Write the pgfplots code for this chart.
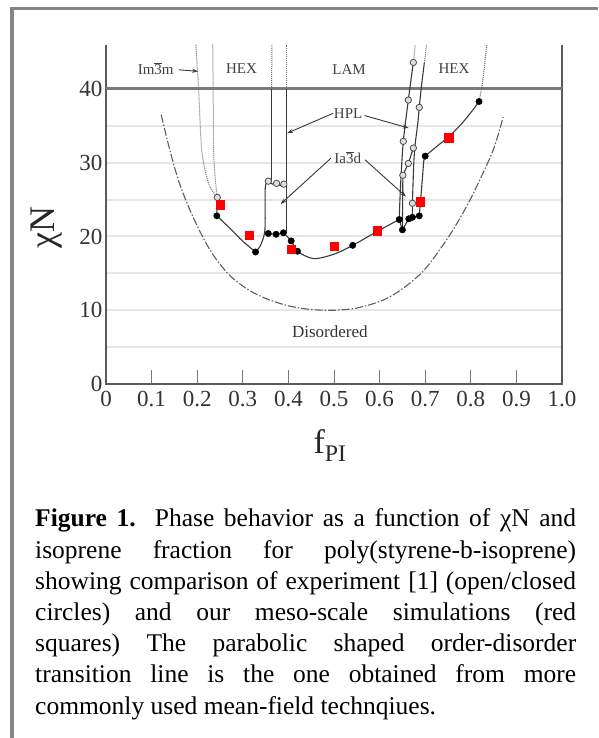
\documentclass[border=0pt]{standalone}
\usepackage{fontspec}
\setmainfont{Liberation Serif}
\usepackage{pgfplots}
\pgfplotsset{compat=1.18}
\usetikzlibrary{arrows.meta}
\definecolor{framegray}{HTML}{858585}
\definecolor{boxgray}{HTML}{5A5A5A}
\definecolor{topgray}{HTML}{7A7A7A}
\definecolor{gridgray}{HTML}{E6E6E6}
\definecolor{curvecol}{HTML}{3A3A3A}
\definecolor{dotcol}{HTML}{6E6E6E}
\definecolor{odtcol}{HTML}{5E5E5E}
\begin{document}
\begin{tikzpicture}[x=1pt,y=1pt]
\useasboundingbox (0,0) rectangle (598,738);
\fill[white] (0,0) rectangle (598,738);
\fill[framegray] (10,0) rectangle (14,731);
\fill[framegray] (10,728) rectangle (598,731);
\begin{axis}[
  at={(106pt,354pt)}, anchor=south west, scale only axis,
  width=456pt, height=339.25pt,
  xmin=0, xmax=1, ymin=0, ymax=46, clip=false,
  axis line style={draw=none},
  tick pos=left, tick align=inside,
  major tick length=14pt,
  xtick={0,0.1,0.2,0.3,0.4,0.5,0.6,0.7,0.8,0.9,1},
  xticklabels={0,0.1,0.2,0.3,0.4,0.5,0.6,0.7,0.8,0.9,1.0},
  ytick={0,10,20,30,40},
  tick style={draw=topgray, line width=1pt},
  extra y ticks={5,10,15,20,25,30,35},
  extra y tick labels={},
  extra y tick style={grid=major, major grid style={draw=gridgray, line width=2pt}, tick style={draw=none}},
  /pgf/number format/assume math mode=true,
  ticklabel style={font=\fontsize{23}{23}\selectfont, text=black!80},
  xticklabel style={yshift=-4pt},
]
% axis frame
\addplot[boxgray, line width=1.5pt] coordinates {(0,46) (0,0) (1,0) (1,46)};
\addplot[topgray, line width=3pt] coordinates {(0,40) (1,40)};
% mean-field ODT (dash-dot)
\addplot[odtcol, line width=1.1pt, dash pattern=on 8pt off 2pt on 1.5pt off 2pt, smooth] coordinates {
 (0.121,36.5) (0.140,31.7) (0.160,27.4) (0.184,23.6) (0.210,20.2) (0.235,17.5) (0.270,14.8) (0.309,12.9) (0.350,11.6) (0.400,10.6) (0.450,10.1) (0.500,10.0) (0.550,10.3) (0.605,11.3) (0.650,12.9) (0.700,15.6) (0.754,20.2) (0.790,24.0) (0.813,26.8) (0.849,31.7) (0.871,36.2)};
% dotted boundaries (left)
\addplot[dotcol, line width=1pt, densely dotted, smooth] coordinates {(0.197,46) (0.203,40) (0.210,31.7) (0.224,27.4) (0.243,25.3)};
\addplot[dotcol, line width=1pt, densely dotted, smooth] coordinates {(0.234,46) (0.235,40) (0.236,31.7) (0.240,27.5) (0.244,25.3)};
\addplot[curvecol, line width=1.1pt] coordinates {(0.243,22.8) (0.244,25.3)};
% experimental ODT, left part
\addplot[curvecol, line width=1.1pt, smooth] coordinates {(0.243,22.8) (0.272,21.1) (0.301,19.3) (0.328,17.9)};
\addplot[curvecol, line width=1.1pt, smooth] coordinates {(0.328,17.9) (0.338,18.7) (0.346,20.0) (0.349,21.5) (0.349,26.3) (0.352,27.3) (0.356,27.5)};
\addplot[curvecol, line width=1.1pt] coordinates {(0.349,20.6) (0.356,20.4) (0.373,20.3) (0.389,20.5) (0.396,20.6)};
\addplot[curvecol, line width=1.1pt] coordinates {(0.356,27.5) (0.365,27.1) (0.374,27.2) (0.382,26.9) (0.390,27.1) (0.396,27.0)};
% verticals at 0.36 / 0.40
\addplot[curvecol, line width=1.1pt] coordinates {(0.363,27.4) (0.363,40)};
\addplot[dotcol, line width=1pt, densely dotted] coordinates {(0.363,40) (0.364,46)};
\addplot[curvecol, line width=1.1pt] coordinates {(0.396,20.6) (0.396,40)};
\addplot[dotcol, line width=1pt, densely dotted] coordinates {(0.396,40) (0.396,46)};
% experimental ODT, middle part
\addplot[curvecol, line width=1.1pt, smooth] coordinates {(0.389,20.5) (0.406,19.4) (0.420,18.0) (0.455,17.0) (0.500,17.6) (0.541,18.8) (0.595,20.7) (0.643,22.3)};
\addplot[curvecol, line width=1.1pt] coordinates {(0.643,22.3) (0.650,20.9) (0.664,22.4) (0.672,22.6) (0.687,22.8)};
% right boundaries
\addplot[curvecol, line width=1.1pt, smooth] coordinates {(0.643,22.3) (0.646,27) (0.652,32.9) (0.663,38.5) (0.674,43.6)};
\addplot[dotcol, line width=1pt, densely dotted] coordinates {(0.674,43.6) (0.678,46)};
\addplot[curvecol, line width=1.1pt] coordinates {(0.650,20.9) (0.651,28.3) (0.663,29.9) (0.674,32.0)};
\addplot[curvecol, line width=1.1pt, smooth] coordinates {(0.672,22.6) (0.672,24.5) (0.675,30) (0.678,32.5) (0.684,35.5) (0.687,37.5) (0.692,40.5) (0.698,43.5)};
\addplot[dotcol, line width=1pt, densely dotted] coordinates {(0.698,43.5) (0.703,46)};
\addplot[curvecol, line width=1.1pt, smooth] coordinates {(0.687,22.8) (0.690,25) (0.694,28) (0.697,30.3) (0.700,30.9)};
\addplot[curvecol, line width=1.1pt, smooth] coordinates {(0.700,30.9) (0.725,32.2) (0.751,33.5) (0.780,35.3) (0.805,37.2) (0.818,38.3)};
\addplot[dotcol, line width=1pt, densely dotted, smooth] coordinates {(0.818,38.3) (0.826,41) (0.835,46)};
% leader lines
\addplot[curvecol, line width=0.9pt, -{Stealth[length=6pt,width=4pt]}] coordinates {(0.498,36.7) (0.397,34.0)};
\addplot[curvecol, line width=0.9pt, -{Stealth[length=6pt,width=4pt]}] coordinates {(0.567,36.4) (0.664,34.7)};
\addplot[curvecol, line width=0.9pt, -{Stealth[length=6pt,width=4pt]}] coordinates {(0.493,30.6) (0.383,24.4)};
\addplot[curvecol, line width=0.9pt, -{Stealth[length=6pt,width=4pt]}] coordinates {(0.568,30.4) (0.658,25.4)};
\addplot[curvecol, line width=0.9pt, -{Stealth[length=6pt,width=4pt]}] coordinates {(0.160,42.6) (0.202,42.4)};
% open circles
\addplot[only marks, mark=*, mark size=3.2pt, mark options={fill=gray!25, draw=black!70, line width=0.8pt}] coordinates {
 (0.356,27.5) (0.374,27.2) (0.390,27.1) (0.244,25.3) (0.672,24.5) (0.651,28.3) (0.663,29.9) (0.674,32.0) (0.652,32.9) (0.663,38.5) (0.674,43.6) (0.687,37.5)};
% closed circles
\addplot[only marks, mark=*, mark size=3.2pt, black] coordinates {
 (0.243,22.8) (0.328,17.9) (0.356,20.4) (0.373,20.3) (0.389,20.5) (0.406,19.4) (0.420,18.0) (0.541,18.8) (0.643,22.3) (0.650,20.9) (0.664,22.4) (0.672,22.6) (0.687,22.8) (0.700,30.9) (0.818,38.3)};
% simulations
\addplot[only marks, mark=square*, mark size=4.3pt, red, mark options={draw=red, fill=red}] coordinates {
 (0.250,24.3) (0.314,20.2) (0.406,18.3) (0.500,18.7) (0.595,20.8) (0.689,24.7) (0.751,33.4)};
% labels
\node[font=\fontsize{15}{15}\selectfont, text=black!75] at (axis cs:0.109,42.7) {Im$\overline{\mbox{3}}$m};
\node[font=\fontsize{15}{15}\selectfont, text=black!75] at (axis cs:0.297,42.7) {HEX};
\node[font=\fontsize{15}{15}\selectfont, text=black!75] at (axis cs:0.533,42.7) {LAM};
\node[font=\fontsize{15}{15}\selectfont, text=black!75] at (axis cs:0.763,42.7) {HEX};
\node[font=\fontsize{15}{15}\selectfont, text=black!75] at (axis cs:0.531,36.6) {HPL};
\node[font=\fontsize{15}{15}\selectfont, text=black!75] at (axis cs:0.530,30.7) {Ia$\overline{\mbox{3}}$d};
\node[font=\fontsize{17}{17}\selectfont, text=black!80] at (axis cs:0.491,7.1) {Disordered};
\end{axis}
\node[rotate=90, font=\fontsize{36}{36}\selectfont, text=black!85] at (47,510) {χN};
\node[anchor=base, font=\fontsize{34}{34}\selectfont, text=black!85] at (330,284) {f\textsubscript{PI}};
\node[anchor=base west, inner sep=0pt] at (35,211) {\parbox[t]{541pt}{\fontsize{25.5}{31.2}\selectfont\hyphenpenalty=10000\exhyphenpenalty=10000\tolerance=10000\emergencystretch=20pt\noindent
\textbf{Figure 1.}\ \ Phase behavior as a function of χN and\linebreak
isoprene fraction for poly(styrene-b-isoprene)\linebreak
showing comparison of experiment [1] (open/closed\linebreak
circles) and our meso-scale simulations (red\linebreak
squares) The parabolic shaped order-disorder\linebreak
transition line is the one obtained from more\linebreak
commonly used mean-field technqiues.}};
\end{tikzpicture}
\end{document}
